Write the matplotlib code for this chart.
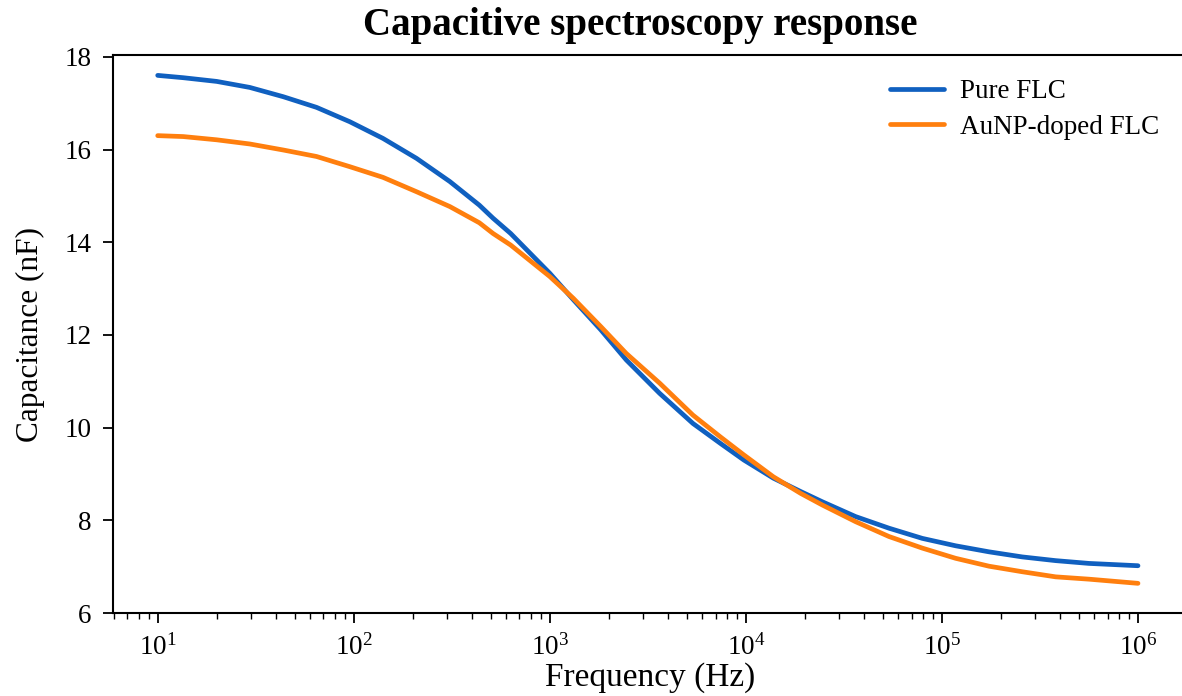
import matplotlib
matplotlib.use("Agg")
import matplotlib.pyplot as plt

# Data
frequency_hz = [10, 13.5, 20, 29.5, 43.7, 64.6, 95.5, 141, 209, 309, 437, 513,
                631, 1000, 1318, 1820, 2455, 3631, 5370, 7413, 9772, 13804,
                19055, 24547, 36308, 53703, 79433, 117490, 173780, 257040,
                380190, 562340, 1000000]
pure_flc_nf = [17.60, 17.55, 17.47, 17.34, 17.14, 16.91, 16.60, 16.24, 15.81,
               15.31, 14.80, 14.52, 14.19, 13.33, 12.76, 12.11, 11.46, 10.74,
               10.09, 9.66, 9.30, 8.91, 8.62, 8.40, 8.08, 7.83, 7.61, 7.45,
               7.32, 7.21, 7.13, 7.07, 7.02]
aunp_flc_nf = [16.30, 16.28, 16.21, 16.12, 15.99, 15.85, 15.63, 15.40, 15.09,
               14.77, 14.42, 14.19, 13.94, 13.26, 12.79, 12.18, 11.60, 10.96,
               10.27, 9.80, 9.41, 8.94, 8.58, 8.33, 7.97, 7.65, 7.40, 7.18,
               7.01, 6.89, 6.78, 6.73, 6.64]
series_labels = ["Pure FLC", "AuNP-doped FLC"]
y_ticks = [6, 8, 10, 12, 14, 16, 18]

plt.rcParams['font.family'] = ['Liberation Serif', 'DejaVu Serif']
plt.rcParams['mathtext.fontset'] = 'custom'
plt.rcParams['mathtext.rm'] = 'Liberation Serif'
plt.rcParams['mathtext.it'] = 'Liberation Serif:italic'

W, H = 1182, 696
fig = plt.figure(figsize=(W / 100, H / 100), dpi=100)
ax = fig.add_axes([113 / W, 1 - 613 / H, (1187 - 113) / W, (613 - 55) / H])

ax.plot(frequency_hz, pure_flc_nf, color="#1060C0", lw=3.4,
        solid_capstyle='round', solid_joinstyle='round', label=series_labels[0])
ax.plot(frequency_hz, aunp_flc_nf, color="#FF7F0E", lw=3.4,
        solid_capstyle='round', solid_joinstyle='round', label=series_labels[1])

ax.set_xscale('log')
ax.set_xlim(10 ** 0.772, 10 ** 6.25)
ax.set_ylim(6, 18.04)
ax.set_yticks(y_ticks)

for s in ax.spines.values():
    s.set_linewidth(1.5)
ax.tick_params(axis='both', which='major', labelsize=19.5, length=7.5, width=1.3,
               direction='out', pad=8)
ax.tick_params(axis='both', which='minor', length=4, width=1.0)

ax.set_xlabel("Frequency (Hz)", fontsize=24, labelpad=1)
ax.set_ylabel("Capacitance (nF)", fontsize=22.5, labelpad=14)
fig.text(640 / W, 1 - 25 / H, "Capacitive spectroscopy response",
         fontsize=28, fontweight='bold', ha='center', va='center')

leg = ax.legend(loc='upper right', bbox_to_anchor=(0.997, 1.0), frameon=False,
                fontsize=19.5, handlelength=2.0, handletextpad=0.6,
                labelspacing=0.38)

fig.savefig("out.png", dpi=100)
